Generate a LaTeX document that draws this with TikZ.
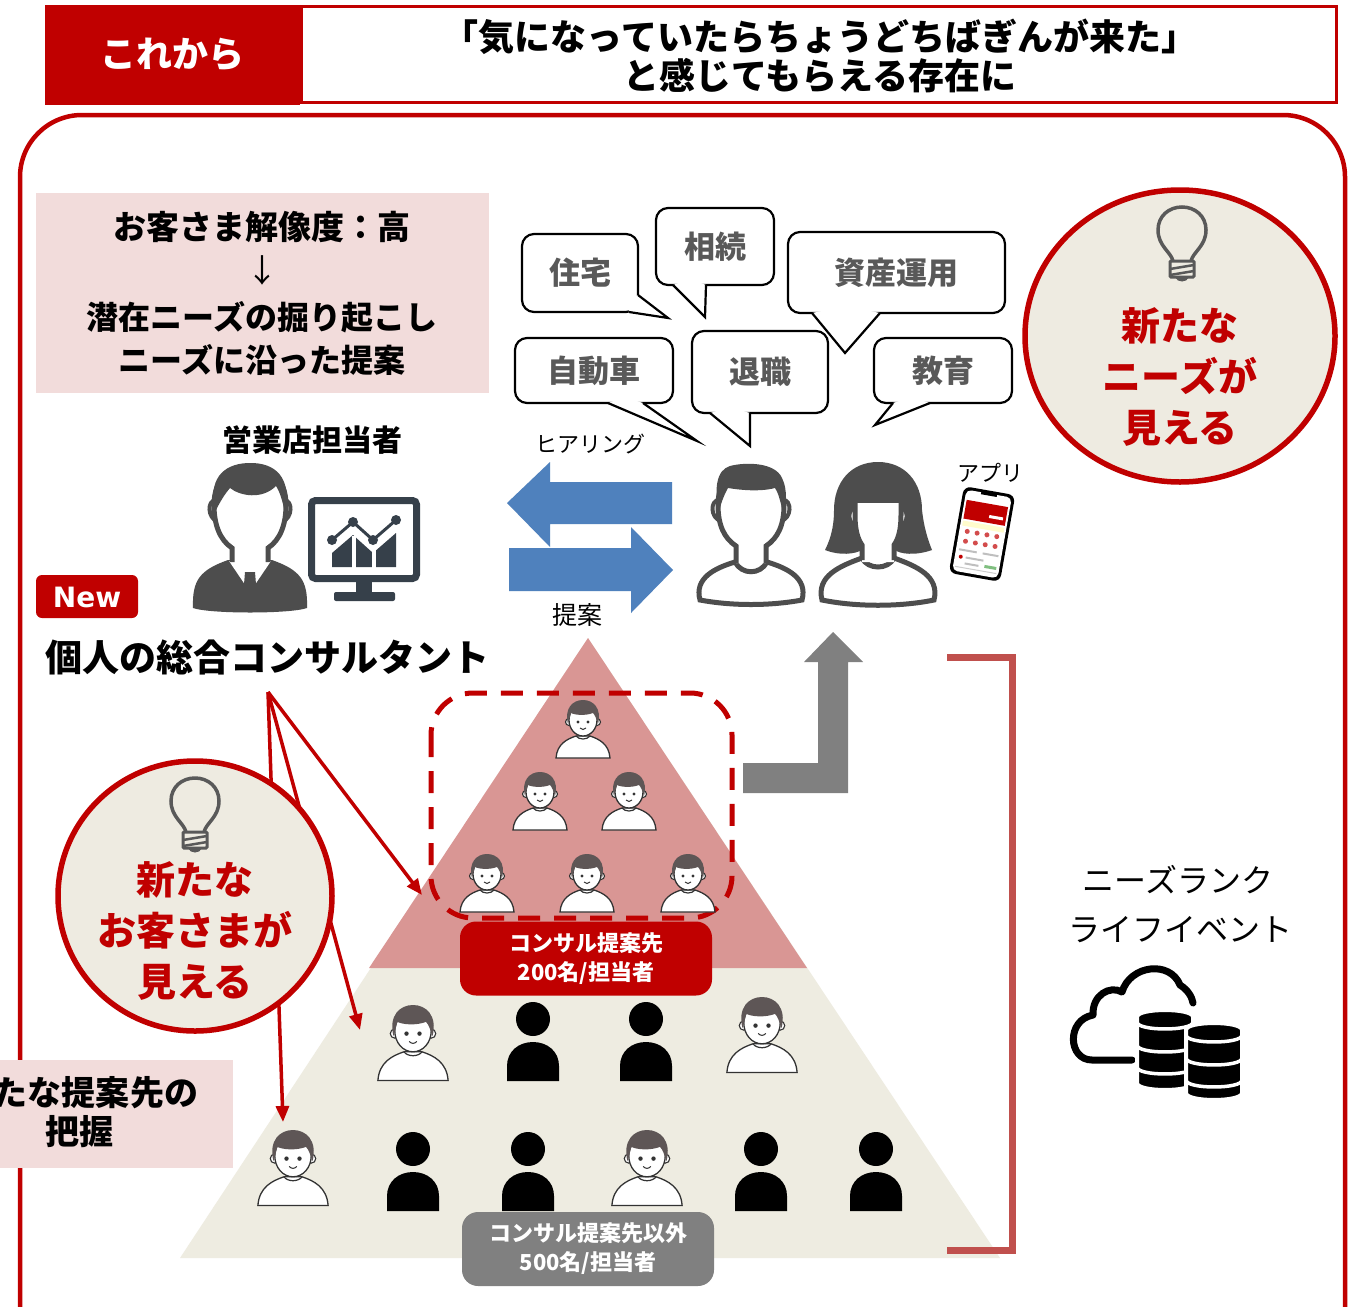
\documentclass[tikz,border=0pt]{standalone}
\usepackage{fontspec}
\setmainfont{Noto Sans CJK JP}
\newfontfamily\latinb{DejaVu Sans}
\usetikzlibrary{arrows.meta}
\definecolor{cred}{HTML}{C00000}
\definecolor{pinkbg}{HTML}{F2DCDB}
\definecolor{pyrpink}{HTML}{D99694}
\definecolor{beige}{HTML}{EEECE1}
\definecolor{beige2}{HTML}{EEEBE1}
\definecolor{blue1}{HTML}{4F81BD}
\definecolor{grayarr}{HTML}{808080}
\definecolor{brk}{HTML}{C0504D}
\definecolor{icondk}{HTML}{4D4D4D}
\definecolor{mon}{HTML}{36404A}
\definecolor{bubtxt}{HTML}{595959}
\definecolor{kidhair}{HTML}{5E5656}
\definecolor{kidline}{HTML}{333333}
\definecolor{bulbc}{HTML}{595959}
\newcommand\fsz[1]{\fontsize{#1}{#1}\selectfont}
% database cylinder stack: centre x, top y, bottom y
\newcommand\dbstack[3]{%
  \filldraw[black, draw=white, line width=4pt]
    ({#1-28},{#2+7}) -- ({#1-28},{#3-7})
    .. controls ({#1-28},{#3+2.3}) and ({#1+28},{#3+2.3}) .. ({#1+28},{#3-7})
    -- ({#1+28},{#2+7})
    .. controls ({#1+28},{#2-2.3}) and ({#1-28},{#2-2.3}) .. ({#1-28},{#2+7}) -- cycle;
  \foreach \g in {12,35,57}{%
    \draw[white, line width=3.5pt] ({#1-28},{#2+\g})
      .. controls ({#1-28},{#2+\g+9.3}) and ({#1+28},{#2+\g+9.3}) .. ({#1+28},{#2+\g});}%
}
% tail of a speech bubble: start on the box, tip, end on the box, a point inside the box
\newcommand\bubtail[4]{%
  \fill[white] #1 -- #2 -- #3 -- #4 -- cycle;
  \draw[black, line width=2.2pt, line join=miter] #1 -- #2 -- #3;}
\tikzset{
  txt/.style={inner sep=0pt, anchor=center},
  bubble/.style={draw=black, line width=2.2pt, fill=white, rounded corners=12pt,
    text=bubtxt, font=\bfseries\fsz{31}, inner sep=0pt},
  lab/.style={rounded corners=16pt, text=white, align=center, inner sep=0pt,
    minimum width=252pt, minimum height=74pt, font=\bfseries\fontsize{22}{29}\selectfont},
  redarr/.style={cred, line width=3.5pt, -{Triangle[length=16pt,width=13pt]}},
  kid/.pic={
    \draw[draw=kidline, fill=white, line width=1.3pt] (-27,38) .. controls (-26,24) and (-16,19) .. (-7,16)
      -- (7,16) .. controls (16,19) and (26,24) .. (27,38) -- cycle;
    \draw[kidline, line width=1.2pt] (-7,16) .. controls (-4,20) and (4,20) .. (7,16);
    \draw[kidline, fill=white, line width=1.1pt] (-14,2) circle (3.5) (14,2) circle (3.5);
    \draw[kidline, fill=white, line width=1.3pt] (0,0) ellipse (14 and 16);
    \fill[kidhair] (-15,4) .. controls (-19,-12) and (-10,-20) .. (0,-20)
      .. controls (10,-20) and (19,-12) .. (15,4) .. controls (13,-2) and (12,-5) .. (10,-7)
      .. controls (2,-4) and (-8,-5) .. (-12,-7) .. controls (-13,-3) and (-14,0) .. (-15,4) -- cycle;
    \fill[kidline] (-5,2) circle (1.7) (5,2) circle (1.7);
    \draw[kidline, line width=1pt] (-3,8) .. controls (-1,10) and (1,10) .. (3,8);
  },
  blackperson/.pic={
    \fill[black] (0,0) circle (17);
    \fill[black] (-26,62) -- (-26,47) .. controls (-26,32) and (-14,23) .. (0,23)
      .. controls (14,23) and (26,32) .. (26,47) -- (26,62) -- cycle;
  },
  bulb/.pic={
    \draw[bulbc, line width=3.5pt] (-9,13) .. controls (-11,4) and (-24,-2) .. (-24,-18)
      .. controls (-24,-32) and (-13,-41) .. (0,-41) .. controls (13,-41) and (24,-32) .. (24,-18)
      .. controls (24,-2) and (11,4) .. (9,13);
    \draw[bulbc, line width=3pt, rounded corners=1pt] (-12,13) rectangle (12,29);
    \draw[bulbc, line width=2.5pt] (-12,21) -- (12,17) (-12,27) -- (12,23);
    \fill[bulbc] (-7,29) .. controls (-5,35) and (5,35) .. (7,29) -- cycle;
  }
}
\begin{document}
\begin{tikzpicture}[x=1pt,y=-1pt]
\useasboundingbox (0,0) rectangle (1356,1306);
\clip (0,0) rectangle (1356,1306);
\fill[white] (0,0) rectangle (1356,1306);

% outer frame
\draw[cred, line width=4.5pt, rounded corners=62pt] (20,115) rectangle (1345,1380);

% header
\fill[cred] (45,5) rectangle (300,105);
\node[txt, text=white, font=\bfseries\fsz{36}] (now) at (172,55) {これから};
\draw[cred, line width=3pt] (301.5,6.5) rectangle (1336,102.5);
\node[txt, font=\bfseries\fsz{36}] (title1) at (820,37) {「気になっていたらちょうどちばぎんが来た」};
\node[txt, font=\bfseries\fsz{36}] (title2) at (820,76) {と感じてもらえる存在に};

% resolution box
\fill[pinkbg] (36,193) rectangle (489,393);
\node[txt, font=\bfseries\fsz{33}] (res) at (262,227) {お客さま解像度：高};
\node[txt, font=\fsz{32}] (down) at (262,270) {↓};
\node[txt, font=\bfseries\fsz{32}] (dig) at (262,317) {潜在ニーズの掘り起こし};
\node[txt, font=\bfseries\fsz{32}] (fit) at (262,360) {ニーズに沿った提案};

% branch staff
\node[txt, font=\bfseries\fsz{30}] (staff) at (312,440) {営業店担当者};
\fill[icondk] (193,608) .. controls (192,580) and (200,570) .. (228,560) -- (272,560)
  .. controls (300,570) and (308,580) .. (307,608) .. controls (290,614) and (210,614) .. (193,608) -- cycle;
\fill[white] (229,561) -- (250,592) -- (271,561) -- cycle;
\fill[icondk] (245,572) -- (255,572) -- (257,597) -- (250,604) -- (243,597) -- cycle;
\draw[icondk, line width=4pt, fill=white] (216,500) .. controls (207,500) and (207,518) .. (218,522);
\draw[icondk, line width=4pt, fill=white] (284,500) .. controls (293,500) and (293,518) .. (282,522);
\draw[icondk, line width=5pt, fill=white] (232,562) -- (232,548) .. controls (220,540) and (214,525) .. (214,505)
  .. controls (214,478) and (230,468) .. (250,468) .. controls (270,468) and (286,478) .. (286,505)
  .. controls (286,525) and (280,540) .. (268,548) -- (268,562);
\fill[icondk] (215,512) .. controls (208,480) and (222,464) .. (248,463) .. controls (276,462) and (292,478) .. (285,512)
  .. controls (282,500) and (280,492) .. (276,486) .. controls (262,500) and (240,496) .. (230,488)
  .. controls (224,495) and (220,502) .. (215,512) -- cycle;
% monitor with chart
\draw[mon, line width=7pt, fill=white, rounded corners=4pt] (311.5,500.5) rectangle (416.5,578.5);
\fill[mon] (356,582) rectangle (372,593);
\fill[mon, rounded corners=2pt] (334,592) rectangle (395,601);
\fill[mon] (332,567) -- (332,553) -- (353,535) -- (373,553) -- (396,533) -- (396,567) -- cycle;
\draw[white, line width=4pt] (354,536) -- (354,568) (374,550) -- (374,568);
\draw[white, line width=8pt, line cap=round, line join=round] (332,540) -- (353,522) -- (373,540) -- (396,520);
\draw[mon, line width=3pt] (332,540) -- (353,522) -- (373,540) -- (396,520);
\fill[mon] (332,540) circle (5) (353,522) circle (5) (373,540) circle (5) (396,520) circle (5);

% new consultant title
\fill[cred, rounded corners=6pt] (36,575) rectangle (138,618);
\node[txt, text=white, font=\latinb\bfseries\fsz{28}] (newtag) at (87,597) {New};
\node[txt, anchor=west, font=\bfseries\fsz{37}] (cons) at (45,657) {個人の総合コンサルタント};

% speech bubbles
\node[bubble, minimum width=116pt, minimum height=78pt] (b1) at (580,273) {住宅};
\bubtail{(638,295)}{(668,318)}{(629,312)}{(628,300)}
\node[bubble, minimum width=118pt, minimum height=77pt] (b2) at (715,246.5) {相続};
\bubtail{(673,285)}{(705,317)}{(706,285)}{(690,279)}
\node[bubble, minimum width=217pt, minimum height=81pt] (b3) at (896.5,272.5) {資産運用};
\bubtail{(812,313)}{(845,353)}{(880,313)}{(846,306)}
\node[bubble, minimum width=158pt, minimum height=65pt] (b4) at (594,370.5) {自動車};
\bubtail{(608,403)}{(697,441)}{(643,403)}{(625,397)}
\node[bubble, minimum width=136pt, minimum height=82pt] (b5) at (760,372) {退職};
\bubtail{(710,413)}{(750,446)}{(750,413)}{(730,407)}
\node[bubble, minimum width=138pt, minimum height=65pt] (b6) at (943,370.5) {教育};
\bubtail{(893,403)}{(875,425)}{(930,403)}{(911,397)}

% hearing / proposal arrows
\node[txt, font=\fsz{22}] (hear) at (590,444) {ヒアリング};
\fill[blue1] (507,503) -- (550,462) -- (550,482) -- (672,482) -- (672,524) -- (550,524) -- (550,547) -- cycle;
\fill[blue1] (673,570) -- (631,527) -- (631,548) -- (509,548) -- (509,591) -- (631,591) -- (631,613) -- cycle;
\node[txt, font=\fsz{25}] (prop) at (577,615) {提案};

% customers: man
\draw[icondk, line width=5pt, fill=white] (700,600) .. controls (694,578) and (715,568) .. (735,562)
  .. controls (742,575) and (760,575) .. (767,562) .. controls (787,568) and (808,578) .. (802,600)
  .. controls (770,606) and (732,606) .. (700,600) -- cycle;
\draw[icondk, line width=4pt, fill=white] (719,500) .. controls (710,500) and (710,518) .. (721,521);
\draw[icondk, line width=4pt, fill=white] (783,500) .. controls (792,500) and (792,518) .. (781,521);
\draw[icondk, line width=5pt, fill=white] (736,563) -- (736,546) .. controls (724,538) and (718,525) .. (718,505)
  .. controls (718,480) and (733,470) .. (751,470) .. controls (769,470) and (784,480) .. (784,505)
  .. controls (784,525) and (778,538) .. (766,546) -- (766,563);
\fill[icondk] (719,512) .. controls (714,490) and (716,470) .. (730,466) .. controls (745,462) and (775,462) .. (782,478)
  .. controls (788,490) and (786,505) .. (783,512) .. controls (780,500) and (778,492) .. (775,488)
  .. controls (760,492) and (740,490) .. (728,488) .. controls (724,495) and (721,503) .. (719,512) -- cycle;
% customers: woman
\fill[icondk] (878,462) .. controls (905,462) and (922,482) .. (922,510) .. controls (924,528) and (928,540) .. (932,550)
  .. controls (915,556) and (900,554) .. (895,550) -- (862,550) .. controls (855,554) and (840,556) .. (825,550)
  .. controls (830,540) and (834,528) .. (834,510) .. controls (834,482) and (851,462) .. (878,462) -- cycle;
\draw[icondk, line width=5pt, fill=white] (822,600) .. controls (816,576) and (840,566) .. (862,558)
  .. controls (868,570) and (888,570) .. (894,558) .. controls (916,566) and (940,576) .. (934,600)
  .. controls (900,607) and (856,607) .. (822,600) -- cycle;
\draw[icondk, line width=4pt, fill=white] (856,508) .. controls (847,508) and (847,524) .. (857,527);
\draw[icondk, line width=4pt, fill=white] (900,508) .. controls (909,508) and (909,524) .. (899,527);
\fill[white] (862,562) -- (862,545) .. controls (856,538) and (854,528) .. (854,515) -- (854,503)
  -- (902,503) -- (902,515) .. controls (902,528) and (900,538) .. (894,545) -- (894,562) -- cycle;
\draw[icondk, line width=5pt] (855,503) -- (855,515) .. controls (855,528) and (857,538) .. (862,545) -- (862,560);
\draw[icondk, line width=5pt] (901,503) -- (901,515) .. controls (901,528) and (899,538) .. (894,545) -- (894,560);

% app
\node[txt, font=\fsz{22}] (app) at (990,473) {アプリ};
\begin{scope}[shift={(982,534)}, rotate=-10]
  \fill[black, rounded corners=7pt] (-26,-44) rectangle (26,44);
  \fill[white, rounded corners=5pt] (-23,-41) rectangle (23,41);
  \fill[black] (-8,-42) rectangle (8,-39);
  \fill[cred] (-21,-31) rectangle (21,-12);
  \fill[white] (4,-20) rectangle (18,-17);
  \fill[yellow!20] (-21,-10) rectangle (21,-5);
  \foreach \u in {-15,-5,5,15}{
    \fill[cred!70] (\u,0) circle (2.5);
    \fill[cred!70] (\u,10) circle (2.5);
  }
  \fill[gray!50] (-20,18) rectangle (-2,20) (4,18) rectangle (20,20);
  \fill[cred] (-17,26) circle (2);
  \fill[gray!50] (-12,25) rectangle (6,27) (-12,31) rectangle (2,33);
  \fill[green!50!black!50] (8,30) rectangle (20,33);
  \fill[gray!40] (-21,36) rectangle (21,37);
\end{scope}

% needs circle
\draw[cred, line width=5.5pt, fill=beige2] (1180,336) ellipse (155 and 146);
\pic at (1182,248) {bulb};
\node[txt, text=cred, font=\bfseries\fsz{39}] (n1) at (1180,326) {新たな};
\node[txt, text=cred, font=\bfseries\fsz{39}] (n2) at (1180,376) {ニーズが};
\node[txt, text=cred, font=\bfseries\fsz{39}] (n3) at (1180,428) {見える};

% pyramid
\fill[beige] (588,638) -- (1000,1258) -- (180,1258) -- cycle;
\fill[pyrpink] (588,638) -- (807,968) -- (369,968) -- cycle;
\draw[cred, line width=5pt, dash pattern=on 22pt off 14pt, rounded corners=42pt] (431,693) rectangle (732,918);
\pic at (583,720) {kid};
\pic at (540,792) {kid};
\pic at (629,792) {kid};
\pic at (487,874) {kid};
\pic at (587,874) {kid};
\pic at (688,874) {kid};
\node[lab, fill=cred] (top200) at (586,958.5) {コンサル提案先\\200名/担当者};
\pic[scale=1.3] at (413,1031) {kid};
\pic at (533,1019) {blackperson};
\pic at (646,1019) {blackperson};
\pic[scale=1.3] at (762,1023) {kid};
\pic[scale=1.3] at (293,1156) {kid};
\pic at (413,1149) {blackperson};
\pic at (528,1149) {blackperson};
\pic[scale=1.3] at (647,1156) {kid};
\pic at (761,1149) {blackperson};
\pic at (876,1149) {blackperson};
\node[lab, fill=grayarr] (rest500) at (588,1249) {コンサル提案先以外\\500名/担当者};

% step-up arrow and bracket
\fill[grayarr] (833,632) -- (863,662) -- (848,662) -- (848,793) -- (743,793) -- (743,763) -- (818,763) -- (818,662) -- (804,662) -- cycle;
\draw[brk, line width=7pt, line join=miter] (947,657) -- (1012,657) -- (1012,1250) -- (947,1250);

% data source
\node[txt, font=\fsz{32}] (rank) at (1178,880) {ニーズランク};
\node[txt, font=\fsz{32}] (life) at (1180,930) {ライフイベント};
\draw[black, line width=7pt, line cap=round, line join=round] (1132,1060) -- (1092,1060)
  .. controls (1068,1060) and (1066,1020) .. (1093,1015) .. controls (1092,995) and (1110,985) .. (1122,992)
  .. controls (1130,965) and (1170,960) .. (1180,985) .. controls (1188,990) and (1192,997) .. (1193,1003);
\dbstack{1165}{1010}{1090}
\dbstack{1214}{1023}{1100}

% consultant pointers
\coordinate (consfoot) at (268,692);
\coordinate (hitA) at (422,895);
\coordinate (hitB) at (360,1030);
\coordinate (hitC) at (283,1122);
\draw[redarr] (consfoot) -- (hitA);
\draw[redarr] (consfoot) -- (hitB);
\draw[redarr] (consfoot) -- (hitC);

% customers circle
\draw[cred, line width=5.5pt, fill=beige2] (195,896) ellipse (137 and 135);
\pic at (195,819) {bulb};
\node[txt, text=cred, font=\bfseries\fsz{39}] (c1) at (195,880) {新たな};
\node[txt, text=cred, font=\bfseries\fsz{39}] (c2) at (195,930) {お客さまが};
\node[txt, text=cred, font=\bfseries\fsz{39}] (c3) at (195,982) {見える};

% new prospects box
\fill[pinkbg] (0,1060) rectangle (233,1168);
\node[txt, font=\bfseries\fsz{34}] (np1) at (79,1093) {新たな提案先の};
\node[txt, font=\bfseries\fsz{34}] (np2) at (79,1132) {把握};
\end{tikzpicture}
\end{document}
